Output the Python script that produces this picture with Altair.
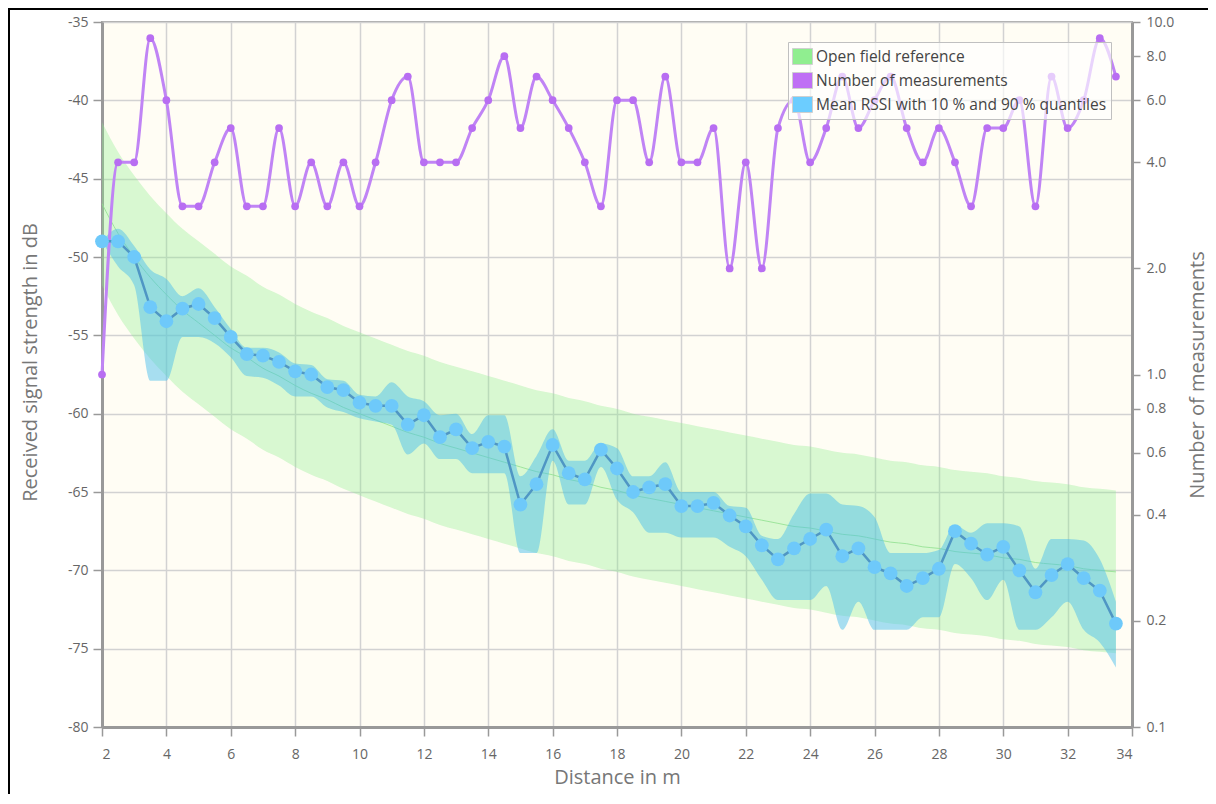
import altair as alt
import pandas as pd

# ---------------- data ----------------
distance = [2.0, 2.5, 3.0, 3.5, 4.0, 4.5, 5.0, 5.5, 6.0, 6.5, 7.0, 7.5, 8.0, 8.5, 9.0, 9.5,
            10.0, 10.5, 11.0, 11.5, 12.0, 12.5, 13.0, 13.5, 14.0, 14.5, 15.0, 15.5, 16.0, 16.5,
            17.0, 17.5, 18.0, 18.5, 19.0, 19.5, 20.0, 20.5, 21.0, 21.5, 22.0, 22.5, 23.0, 23.5,
            24.0, 24.5, 25.0, 25.5, 26.0, 26.5, 27.0, 27.5, 28.0, 28.5, 29.0, 29.5, 30.0, 30.5,
            31.0, 31.5, 32.0, 32.5, 33.0, 33.5]

n_measurements = [1, 4, 4, 9, 6, 3, 3, 4, 5, 3, 3, 5, 3, 4, 3, 4, 3, 4, 6, 7,
                  4, 4, 4, 5, 6, 8, 5, 7, 6, 5, 4, 3, 6, 6, 4, 7, 4, 4, 5, 2,
                  4, 2, 5, 6, 4, 5, 7, 5, 6, 7, 5, 4, 5, 4, 3, 5, 5, 6, 3, 7,
                  5, 6, 9, 7]

rssi_mean = [-49.0, -49.0, -50.0, -53.2, -54.1, -53.3, -53.0, -53.9, -55.1, -56.2, -56.3, -56.7,
             -57.3, -57.5, -58.3, -58.5, -59.3, -59.5, -59.5, -60.7, -60.1, -61.5, -61.0, -62.2,
             -61.8, -62.1, -65.8, -64.5, -62.0, -63.8, -64.2, -62.3, -63.5, -65.0, -64.7, -64.5,
             -65.9, -65.9, -65.7, -66.5, -67.2, -68.4, -69.3, -68.6, -68.0, -67.4, -69.1, -68.6,
             -69.8, -70.2, -71.0, -70.5, -69.9, -67.5, -68.3, -69.0, -68.5, -70.0, -71.4, -70.3,
             -69.6, -70.5, -71.3, -73.4]

rssi_q90 = [-49.0, -48.2, -49.3, -50.8, -51.4, -52.5, -52.0, -53.2, -54.6, -55.8, -55.8, -56.1,
            -56.8, -56.9, -57.8, -57.9, -58.8, -58.9, -58.0, -58.9, -59.2, -60.1, -60.0, -61.3,
            -60.1, -60.1, -64.0, -62.7, -61.0, -63.0, -63.0, -61.9, -62.2, -64.0, -64.0, -63.1,
            -65.0, -65.0, -65.0, -65.9, -66.0, -67.8, -68.0, -66.4, -65.1, -65.1, -65.8, -65.9,
            -66.6, -68.9, -68.9, -68.9, -68.7, -67.1, -67.6, -67.0, -67.0, -67.2, -69.9, -68.0,
            -68.0, -68.1, -69.3, -72.0]

rssi_q10 = [-49.0, -50.6, -51.8, -57.9, -57.9, -55.1, -55.1, -55.5, -56.4, -57.6, -57.7, -58.2,
            -58.9, -58.9, -59.6, -59.9, -60.3, -60.5, -60.7, -62.6, -61.9, -62.9, -62.9, -63.8,
            -63.8, -63.8, -68.9, -68.9, -63.0, -65.8, -65.8, -63.4, -65.5, -66.3, -67.6, -67.6,
            -67.9, -67.9, -67.9, -68.5, -69.1, -70.6, -71.9, -71.9, -71.9, -71.0, -73.8, -72.0,
            -73.8, -73.8, -73.8, -73.0, -73.0, -69.6, -70.5, -71.9, -70.6, -73.8, -73.8, -73.0,
            -72.0, -73.8, -74.6, -76.2]

ref_upper = [-41.4, -43.3, -44.8, -46.1, -47.2, -48.2, -49.0, -49.8, -50.6, -51.2, -51.9, -52.4,
             -53.0, -53.5, -53.9, -54.4, -54.8, -55.2, -55.6, -56.0, -56.3, -56.7, -57.0, -57.3,
             -57.6, -57.9, -58.2, -58.5, -58.7, -59.0, -59.2, -59.5, -59.7, -60.0, -60.2, -60.4,
             -60.6, -60.8, -61.0, -61.2, -61.4, -61.6, -61.8, -62.0, -62.1, -62.3, -62.5, -62.6,
             -62.8, -63.0, -63.1, -63.3, -63.4, -63.6, -63.7, -63.8, -64.0, -64.1, -64.3, -64.4,
             -64.5, -64.7, -64.8, -64.9]

ref_center = [-46.6, -48.5, -50.0, -51.3, -52.4, -53.4, -54.2, -55.0, -55.8, -56.4, -57.1, -57.6,
              -58.2, -58.7, -59.1, -59.6, -60.0, -60.4, -60.8, -61.2, -61.5, -61.9, -62.2, -62.5,
              -62.8, -63.1, -63.4, -63.7, -63.9, -64.2, -64.4, -64.7, -64.9, -65.2, -65.4, -65.6,
              -65.8, -66.0, -66.2, -66.4, -66.6, -66.8, -67.0, -67.2, -67.3, -67.5, -67.7, -67.8,
              -68.0, -68.2, -68.3, -68.5, -68.6, -68.8, -68.9, -69.0, -69.2, -69.3, -69.5, -69.6,
              -69.7, -69.9, -70.0, -70.1]

ref_lower = [-51.8, -53.7, -55.2, -56.5, -57.6, -58.6, -59.4, -60.2, -61.0, -61.6, -62.3, -62.8,
             -63.4, -63.9, -64.3, -64.8, -65.2, -65.6, -66.0, -66.4, -66.7, -67.1, -67.4, -67.7,
             -68.0, -68.3, -68.6, -68.9, -69.1, -69.4, -69.6, -69.9, -70.1, -70.4, -70.6, -70.8,
             -71.0, -71.2, -71.4, -71.6, -71.8, -72.0, -72.2, -72.4, -72.5, -72.7, -72.9, -73.0,
             -73.2, -73.4, -73.5, -73.7, -73.8, -74.0, -74.1, -74.2, -74.4, -74.5, -74.7, -74.8,
             -74.9, -75.1, -75.2, -75.3]

x_ticks = [2, 4, 6, 8, 10, 12, 14, 16, 18, 20, 22, 24, 26, 28, 30, 32, 34]
y_ticks = [-80, -75, -70, -65, -60, -55, -50, -45, -40, -35]
n_ticks = [0.1, 0.2, 0.4, 0.6, 0.8, 1.0, 2.0, 4.0, 6.0, 8.0, 10.0]

legend_names = ["Open field reference", "Number of measurements",
                "Mean RSSI with 10 % and 90 % quantiles"]
legend_colors = ["#90ee90", "#bf6ff5", "#6ccdff"]

df = pd.DataFrame({
    "d": distance, "n": n_measurements, "mean": rssi_mean,
    "q90": rssi_q90, "q10": rssi_q10,
    "ru": ref_upper, "rc": ref_center, "rl": ref_lower,
})
legend_df = pd.DataFrame({"name": legend_names, "d": [2, 2, 2], "mean": [-80, -80, -80]})
one = pd.DataFrame({"a": [0]})

FONT = "Open Sans"
W, H = 1030, 705

x_enc = alt.X("d:Q", scale=alt.Scale(domain=[2, 34], nice=False, zero=False),
              axis=alt.Axis(values=x_ticks, title="Distance in m", grid=True,
                            gridColor="#d2d2d2", gridWidth=1.5,
                            domainColor="#999999", domainWidth=3,
                            tickColor="#999999", tickSize=9, tickWidth=1.5,
                            labelColor="#666666", labelFontSize=14, labelPadding=11,
                            labelFont=FONT, titleFont=FONT,
                            titleFontSize=20, titleFontWeight="normal",
                            titleColor="#777777", titlePadding=6))

db_scale = alt.Scale(domain=[-80, -35], nice=False, zero=False)

left_axis = alt.Axis(orient="left", values=y_ticks,
                     labelExpr="'' + datum.value",
                     title="Received signal strength in dB",
                     grid=True, gridColor="#d2d2d2", gridWidth=1.5,
                     domainColor="#999999", domainWidth=3,
                     tickColor="#999999", tickSize=9, tickWidth=1.5,
                     labelColor="#666666", labelFontSize=14, labelPadding=5,
                     labelFont=FONT, titleFont=FONT,
                     titleFontSize=20, titleFontWeight="normal",
                     titleColor="#777777", titleX=-72, titleY=340,
                     titleBaseline="middle")

# left-scale layers
ref_band = alt.Chart(df).mark_area(color="#90ee90", opacity=0.35, interpolate="monotone").encode(
    x=x_enc, y=alt.Y("ru:Q", scale=db_scale, axis=left_axis), y2="rl:Q")
ref_line = alt.Chart(df).mark_line(color="#8ee08e", strokeWidth=1, opacity=0.8,
                                   interpolate="monotone").encode(
    x=x_enc, y=alt.Y("rc:Q", scale=db_scale, axis=left_axis))
rssi_band = alt.Chart(df).mark_area(color="#4fc0ec", opacity=0.5, interpolate="monotone").encode(
    x=x_enc, y=alt.Y("q90:Q", scale=db_scale, axis=left_axis), y2="q10:Q")
left = alt.layer(ref_band, ref_line, rssi_band)

# right (count) layers
n_scale = alt.Scale(type="log", domain=[0.1, 10], nice=False)
right_axis = alt.Axis(orient="right", values=n_ticks, format=".1f",
                      title="Number of measurements", grid=False,
                      domainColor="#999999", domainWidth=3,
                      tickColor="#999999", tickSize=8, tickWidth=1.5,
                      labelColor="#666666", labelFontSize=14, labelPadding=6,
                      labelFont=FONT, titleFont=FONT,
                      titleFontSize=20, titleFontWeight="normal",
                      titleColor="#777777", titleAngle=270, titleX=65,
                      titleBaseline="middle")
y_right = alt.Y("n:Q", scale=n_scale, axis=right_axis)
n_line = alt.Chart(df).mark_line(color="#c084f5", strokeWidth=3, interpolate="monotone").encode(
    x=x_enc, y=y_right)
n_pts = alt.Chart(df).mark_circle(color="#b86ef2", opacity=1, size=60).encode(x=x_enc, y=y_right)
right = alt.layer(n_line, n_pts)

# mean RSSI on top
y_hidden = alt.Y("mean:Q", scale=db_scale, axis=None)
m_line = alt.Chart(df).mark_line(color="#4f96c4", strokeWidth=2.5).encode(x=x_enc, y=y_hidden)
m_pts = alt.Chart(df).mark_circle(color="#6ec9fa", opacity=1, size=190).encode(x=x_enc, y=y_hidden)
legend_layer = alt.Chart(legend_df).mark_point(shape="square", filled=True, opacity=0, size=1).encode(
    x=x_enc, y=y_hidden,
    color=alt.Color("name:N", scale=alt.Scale(domain=legend_names, range=legend_colors),
                    legend=alt.Legend(orient="none", legendX=686, legendY=20, title=None,
                                      symbolType="M-1,-0.8H1V0.8H-1Z", symbolSize=400,
                                      symbolOpacity=1, symbolStrokeColor="#d0d0d0",
                                      symbolStrokeWidth=1,
                                      labelFont=FONT, labelFontSize=15.5, labelColor="#444444",
                                      labelOffset=3, labelLimit=500, rowPadding=3,
                                      padding=4, strokeColor="#c0c0c0",
                                      fillColor="rgba(255,255,255,0.65)")))
frame_top = alt.Chart(one).mark_rule(color="black", strokeWidth=2).encode(
    x=alt.value(-94), x2=alt.value(1106), y=alt.value(-13))
frame_left = alt.Chart(one).mark_rule(color="black", strokeWidth=2).encode(
    x=alt.value(-93), y=alt.value(-14), y2=alt.value(772))
top = alt.layer(m_line, m_pts, legend_layer, frame_top, frame_left)

chart = alt.layer(left, right, top).resolve_scale(y="independent").properties(
    width=W, height=H,
    autosize=alt.AutoSizeParams(type="none"),
    padding={"left": 94, "top": 14, "right": 76, "bottom": 67},
).configure(background="white", font=FONT).configure_view(
    fill="#fffdf4", stroke="#a8a8a8", strokeWidth=2)

chart.save("out.html", embed_options={"renderer": "svg", "actions": False})
